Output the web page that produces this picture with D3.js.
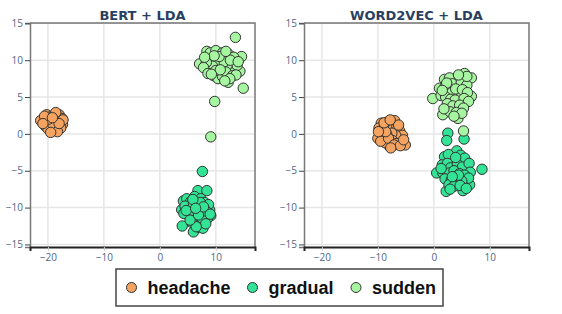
<!DOCTYPE html>
<html>
<head>
<meta charset="utf-8">
<script src="https://cdn.jsdelivr.net/npm/d3@7"></script>
<style>
  body { margin: 0; background: #fff; }
  svg { display: block; }
</style>
</head>
<body>
<svg id="chart" width="562" height="314"></svg>
<script>
// categories and colours (legend order)
const categories = ['headache', 'gradual', 'sudden'];
const colors = ['#F4A460', '#33E396', '#A6F5A0'];

const panelTitles = ['BERT + LDA', 'WORD2VEC + LDA'];
const xTicks = [-20, -10, 0, 10];
const yTicks = [-15, -10, -5, 0, 5, 10, 15];

// BERT + LDA points [x, y]
const bertHeadache = [[-20.2,2.6],[-19.6,2.3],[-18.9,2.5],[-18.0,2.6],[-17.5,2.1],[-20.8,1.9],[-21.3,1.8],[-20.1,1.5],
  [-19.3,1.7],[-18.5,1.9],[-17.8,1.6],[-17.4,1.3],[-20.5,1.1],[-19.8,1.0],[-19.0,0.9],[-18.2,1.1],[-17.7,0.8],
  [-19.4,0.4],[-18.8,0.5],[-20.0,0.7],[-19.1,1.3],[-18.6,2.9],[-19.9,2.0],[-18.3,0.3],[-20.6,2.4],[-17.3,1.9],
  [-19.5,0.2],[-18.0,1.4],[-20.9,1.4],[-19.2,2.2]];
const bertGradual = [[7.6,-5.1],[6.8,-7.7],[8.4,-7.7],[4.2,-9.1],[4.8,-8.8],[4.0,-12.5],[6.0,-13.3],[7.1,-12.7],
  [7.0,-11.9],[9.1,-11.1],[7.4,-10.1],[8.9,-10.3],[3.9,-10.3],[7.7,-12.8],[5.5,-9.2],[6.2,-8.5],[7.3,-8.8],
  [8.0,-9.3],[5.0,-10.0],[5.8,-10.6],[6.6,-9.8],[7.9,-10.8],[8.5,-11.5],[6.3,-11.3],[5.2,-11.1],[4.5,-9.8],
  [4.3,-10.8],[6.8,-10.5],[7.5,-11.4],[8.2,-12.2],[5.7,-12.0],[6.5,-12.6],[8.7,-9.6],[6.0,-9.5],[7.2,-9.3],
  [4.7,-10.4],[5.4,-11.7],[8.3,-10.5],[6.9,-11.0],[7.8,-9.9],[5.9,-8.9],[6.4,-10.1],[9.0,-10.9]];
const bertSudden = [[13.5,13.1],[14.9,6.2],[9.8,4.4],[9.1,-0.4],[7.1,9.5],[8.4,11.2],[14.6,10.5],[12.2,7.0],
  [11.3,10.3],[14.3,8.5],[12.8,8.8],[9.5,10.1],[10.7,8.0],[8.9,8.7],[11.0,9.1],[9.0,11.0],[10.0,11.3],
  [11.2,11.0],[12.3,10.8],[13.2,10.4],[12.9,9.7],[13.8,9.3],[12.0,9.3],[10.2,9.6],[9.4,9.2],[8.3,9.7],
  [7.8,9.0],[8.6,8.2],[9.6,7.9],[10.4,7.5],[11.2,7.8],[11.8,8.4],[13.0,7.9],[13.6,8.0],[12.5,7.5],
  [10.0,8.6],[11.5,9.8],[10.6,10.5],[9.7,10.6],[12.6,10.0],[8.0,10.4],[11.8,11.2],[14.0,9.8],[10.8,8.7],
  [9.2,8.1],[11.6,7.2]];

// WORD2VEC + LDA points [x, y]
const w2vHeadache = [[-9.4,1.45],[-7.0,1.8],[-9.4,0.1],[-5.1,-1.5],[-7.9,-1.7],[-10.0,-0.6],[-6.4,-0.4],
  [-8.3,1.6],[-7.6,1.2],[-9.8,0.8],[-8.9,0.9],[-8.0,0.6],[-7.2,0.8],[-6.6,1.0],[-6.1,0.4],[-5.6,-0.2],
  [-5.9,-0.9],[-6.8,-0.2],[-7.5,0.1],[-8.4,-0.1],[-9.1,-0.5],[-8.7,-1.2],[-9.5,-1.0],[-7.4,-0.9],[-6.6,-1.3],
  [-8.1,-0.6],[-7.1,-1.5],[-8.6,0.3],[-9.9,0.3],[-6.0,-1.6],[-5.4,-0.8],[-7.7,-1.9],[-8.9,1.5],[-6.3,1.2],
  [-7.8,1.9]];
const w2vGradual = [[2.5,0.1],[2.3,-0.9],[5.4,-0.7],[4.1,-2.3],[0.5,-5.3],[8.6,-4.8],[2.2,-7.8],[5.2,-7.7],
  [6.4,-6.9],[1.9,-3.1],[3.4,-3.7],[5.8,-4.2],[4.3,-6.7],[2.6,-2.8],[4.8,-2.9],[5.5,-3.3],[1.5,-4.2],
  [2.4,-4.0],[3.0,-4.6],[4.2,-4.1],[5.1,-4.5],[6.3,-4.0],[6.5,-5.2],[1.6,-5.3],[2.8,-5.3],[3.6,-5.0],
  [4.6,-5.4],[5.5,-5.6],[6.2,-6.0],[2.0,-6.1],[3.1,-6.3],[4.0,-6.0],[5.0,-6.4],[2.7,-6.9],[3.6,-7.1],
  [4.7,-7.0],[5.8,-7.4],[1.3,-4.7],[3.9,-3.2],[2.9,-7.5],[4.4,-5.6],[3.3,-5.8]];
const w2vSudden = [[-0.2,4.8],[6.7,7.6],[5.5,8.2],[1.6,2.6],[4.3,2.1],[1.9,7.4],[4.0,7.3],[6.7,5.1],[1.0,6.2],
  [4.5,5.5],[5.3,0.4],[2.8,7.6],[3.3,6.8],[4.9,7.0],[5.9,6.6],[2.0,6.4],[2.5,5.9],[3.2,5.6],[3.9,6.1],
  [5.1,6.0],[6.0,5.6],[1.3,5.2],[2.1,5.0],[3.0,4.7],[3.8,4.6],[5.4,4.8],[6.2,4.4],[2.4,4.1],[3.4,3.8],
  [4.6,3.9],[5.3,3.5],[2.9,3.0],[4.0,2.9],[5.0,2.8],[1.8,3.4],[3.6,2.4],[5.9,7.8],[4.4,8.0],[2.3,6.9],
  [1.5,5.9]];

const panels = [
  { title: panelTitles[0], left: 30, right: 255, series: [bertHeadache, bertGradual, bertSudden] },
  { title: panelTitles[1], left: 304, right: 529, series: [w2vHeadache, w2vGradual, w2vSudden] }
];

const svg = d3.select('#chart');
const plotTop = 23, plotBottom = 247;

panels.forEach(p => {
  const x = d3.scaleLinear().domain([-23.2, 17]).range([p.left, p.right]);
  const y = d3.scaleLinear().domain([-15.35, 15.05]).range([plotBottom, plotTop]);
  const g = svg.append('g');

  // grid
  g.append('g').selectAll('line').data(xTicks).enter().append('line')
    .attr('x1', d => x(d)).attr('x2', d => x(d))
    .attr('y1', plotTop).attr('y2', plotBottom)
    .attr('stroke', '#e6e6e6').attr('stroke-width', 1.5);
  g.append('g').selectAll('line').data(yTicks).enter().append('line')
    .attr('x1', p.left).attr('x2', p.right)
    .attr('y1', d => y(d)).attr('y2', d => y(d))
    .attr('stroke', '#e6e6e6').attr('stroke-width', 1.5);

  // frame top / right
  g.append('path')
    .attr('d', `M${p.left},${plotTop}H${p.right}V${plotBottom}`)
    .attr('fill', 'none').attr('stroke', '#777').attr('stroke-width', 1.5);

  // y axis
  const ya = g.append('g').attr('transform', `translate(${p.left},0)`)
    .call(d3.axisLeft(y).tickValues(yTicks).tickSize(5).tickPadding(2));
  ya.select('.domain').attr('stroke', '#777').attr('stroke-width', 1.5);
  ya.selectAll('.tick line').attr('stroke', '#444');
  ya.selectAll('text').attr('fill', '#506784').style('font-family', 'Open Sans').style('font-size', '10px');

  // x axis
  const xa = g.append('g').attr('transform', `translate(0,${plotBottom})`)
    .call(d3.axisBottom(x).tickValues(xTicks).tickSize(4).tickPadding(3));
  xa.select('.domain').attr('stroke', '#222').attr('stroke-width', 2);
  xa.selectAll('.tick line').attr('stroke', '#ccc');
  xa.selectAll('text').attr('fill', '#506784').style('font-family', 'Open Sans').style('font-size', '10px');

  // points, drawn per category in legend order
  p.series.forEach((pts, i) => {
    g.append('g').selectAll('circle').data(pts).enter().append('circle')
      .attr('cx', d => x(d[0])).attr('cy', d => y(d[1]))
      .attr('r', 5.2)
      .attr('fill', colors[i])
      .attr('stroke', '#333').attr('stroke-width', 1);
  });

  // title
  g.append('text')
    .attr('x', (p.left + p.right) / 2).attr('y', 20)
    .attr('text-anchor', 'middle')
    .attr('fill', '#2a3f5f')
    .style('font-family', 'DejaVu Sans').style('font-weight', 'bold').style('font-size', '13px')
    .text(p.title);
});

// legend
const legend = svg.append('g');
legend.append('rect')
  .attr('x', 116).attr('y', 269).attr('width', 327).attr('height', 37)
  .attr('fill', '#fff').attr('stroke', '#444').attr('stroke-width', 1.5);
const legendX = [131.5, 252.5, 356];
categories.forEach((c, i) => {
  legend.append('circle')
    .attr('cx', legendX[i]).attr('cy', 287.5).attr('r', 5)
    .attr('fill', colors[i]).attr('stroke', '#333').attr('stroke-width', 1);
  legend.append('text')
    .attr('x', legendX[i] + 16).attr('y', 294)
    .attr('fill', '#111')
    .style('font-family', 'Liberation Sans, Arial').style('font-weight', 'bold').style('font-size', '18px')
    .text(c);
});
</script>
</body>
</html>
